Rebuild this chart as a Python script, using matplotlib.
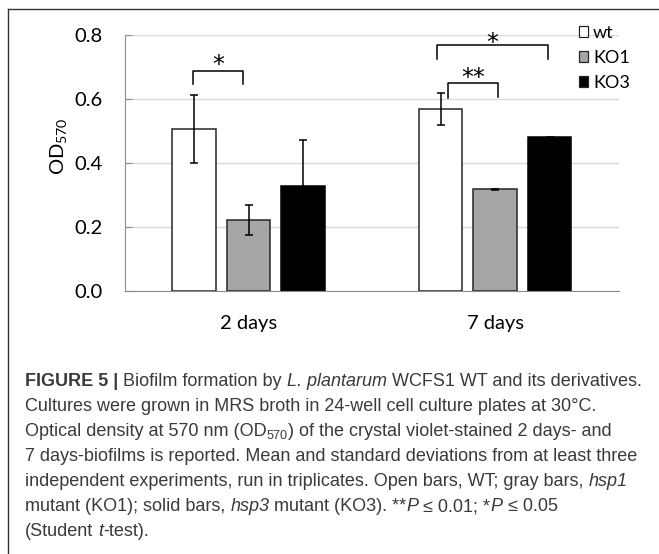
import matplotlib
matplotlib.use("Agg")
import matplotlib.pyplot as plt
from matplotlib.patches import Patch
from matplotlib.lines import Line2D
import numpy as np

# ---------------- data ----------------
categories = ["2 days", "7 days"]
series = ["wt", "KO1", "KO3"]
wt_mean = [0.506, 0.570]
ko1_mean = [0.221, 0.318]
ko3_mean = [0.328, 0.480]
wt_sd = [0.106, 0.050]
ko1_sd = [0.047, 0.002]
ko3_sd = [0.143, 0.002]
yticks = [0.0, 0.2, 0.4, 0.6, 0.8]

# significance brackets: (group, series a, dx a, series b, dx b, top, leg bottom a, leg bottom b, label, label y)
brackets = [
    (0, 0, -0.004, 1, -0.022, 0.688, 0.646, 0.646, "*", 0.722),
    (1, 0, 0.029, 1, 0.011, 0.651, 0.603, 0.606, "**", 0.681),
    (1, 0, -0.014, 2, -0.007, 0.768, 0.724, 0.724, "*", 0.790),
]

caption_lines = [
    [("FIGURE 5 |", "b"), (" Biofilm formation by ", "n"), ("L. plantarum", "i"),
     (" WCFS1 WT and its derivatives.", "n")],
    [("Cultures were grown in MRS broth in 24-well cell culture plates at 30°C.", "n")],
    [("Optical density at 570 nm (OD", "n"), ("570", "s"),
     (") of the crystal violet-stained 2 days- and", "n")],
    [("7 days-biofilms is reported. Mean and standard deviations from at least three", "n")],
    [("independent experiments, run in triplicates. Open bars, WT; gray bars, ", "n"), ("hsp1", "i")],
    [("mutant (KO1); solid bars, ", "n"), ("hsp3", "i"), (" mutant (KO3). **", "n"), ("P", "i"),
     (" ≤ 0.01; *", "n"), ("P", "i"), (" ≤ 0.05", "n")],
    [("(Student ", "n"), ("t", "i"), ("-test).", "n")],
]

# ---------------- style ----------------
W, H = 659, 554
plt.rcParams["font.family"] = ["Lato", "DejaVu Sans"]
plt.rcParams["mathtext.fontset"] = "custom"
plt.rcParams["mathtext.rm"] = "Lato"
plt.rcParams["mathtext.it"] = "Lato:italic"

fig = plt.figure(figsize=(W / 100, H / 100), dpi=100)
ax = fig.add_axes([125.2 / W, 1 - 291 / H, (618.5 - 125.2) / W, (291 - 35) / H])

means = [wt_mean, ko1_mean, ko3_mean]
sds = [wt_sd, ko1_sd, ko3_sd]
faces = ["white", "#a6a6a6", "black"]
edges = ["#262626", "#262626", "black"]
offset = 0.221
width = 0.176
xc = np.arange(len(categories)) + 0.5

centers = []
for j in range(3):
    xs = xc + (j - 1) * offset
    centers.append(xs)
    ax.bar(xs, means[j], width=width, color=faces[j], edgecolor=edges[j], linewidth=1.1, zorder=2)
    ax.errorbar(xs, means[j], yerr=sds[j], fmt="none", ecolor="black", elinewidth=1.1,
                capsize=3, capthick=1.1, zorder=3)

ax.set_xlim(0, 2)
ax.set_ylim(0, 0.8)
ax.set_yticks(yticks)
ax.set_yticklabels([f"{v:.1f}" for v in yticks])
ax.set_xticks(xc)
ax.set_xticklabels(categories)
ax.yaxis.grid(True, color="#d9d9d9", linewidth=1.0, zorder=0)
ax.set_axisbelow(True)
for s in ["top", "right"]:
    ax.spines[s].set_visible(False)
ax.spines["left"].set_color("#8c8c8c")
ax.spines["bottom"].set_color("#8c8c8c")
ax.tick_params(axis="y", direction="in", length=5, color="#8c8c8c", labelsize=14.5, pad=16)
ax.tick_params(axis="x", length=0, labelsize=14.5, pad=17)
ax.set_ylabel("OD$_{\\mathrm{570}}$", fontsize=14.5)
ax.yaxis.set_label_coords(-0.113, 0.566)

# brackets
star_fs = 17
for g, a, dxa, b, dxb, top, la, lb, lab, ly in brackets:
    x1 = centers[a][g] + dxa
    x2 = centers[b][g] + dxb
    ax.plot([x1, x1, x2, x2], [la, top, top, lb], color="black", lw=1.1, clip_on=False, zorder=4)
    ax.annotate(lab, xy=((x1 + x2) / 2, ly), xytext=(0, -0.5 * star_fs), textcoords="offset points",
                ha="center", va="baseline", fontsize=star_fs, family="DejaVu Sans",
                annotation_clip=False)

# legend
handles = [Patch(facecolor=faces[j], edgecolor="#262626", linewidth=0.9) for j in range(3)]
fig.legend(handles, series, loc="upper left", bbox_to_anchor=(579 / W, 1 - 25 / H),
           frameon=False, fontsize=13, handlelength=0.5, handleheight=0.5,
           handletextpad=0.28, labelspacing=0.5, borderpad=0, borderaxespad=0)

# outer box (top and left edges visible)
fig.add_artist(Line2D([8 / W, 8 / W], [0, 1 - 9 / H], transform=fig.transFigure, color="#333333", lw=1.0))
fig.add_artist(Line2D([8 / W, 1.0], [1 - 9 / H, 1 - 9 / H], transform=fig.transFigure, color="#333333", lw=1.0))

# caption
cap_family = ["Liberation Sans", "DejaVu Sans"]
cap_size = 13.0
cap_color = "#3a3a3a"
renderer = fig.canvas.get_renderer()
styles = {
    "n": dict(fontweight="normal", fontstyle="normal"),
    "b": dict(fontweight="bold", fontstyle="normal"),
    "i": dict(fontweight="normal", fontstyle="italic"),
    "s": dict(fontweight="normal", fontstyle="normal"),
}


def width_px(txt, st, size):
    t = fig.text(0, 0, txt, family=cap_family, fontsize=size, **styles[st])
    w = t.get_window_extent(renderer).width
    t.remove()
    return w


space_w = {}
for st in styles:
    space_w[st] = width_px("x x", st, cap_size) - width_px("xx", st, cap_size)

base0 = 386
step = 25
for i, line in enumerate(caption_lines):
    x = 25.0
    y = base0 + i * step
    for txt, st in line:
        size = cap_size * 0.7 if st == "s" else cap_size
        yy = y + 3 if st == "s" else y
        lead = len(txt) - len(txt.lstrip(" "))
        trail = len(txt) - len(txt.rstrip(" "))
        core = txt.strip(" ")
        x += lead * space_w[st]
        if core:
            t = fig.text(x / W, 1 - yy / H, core, family=cap_family, fontsize=size,
                         color=cap_color, va="baseline", ha="left", **styles[st])
            x += t.get_window_extent(renderer).width
        x += trail * space_w[st]

fig.savefig("out.png", dpi=100)
